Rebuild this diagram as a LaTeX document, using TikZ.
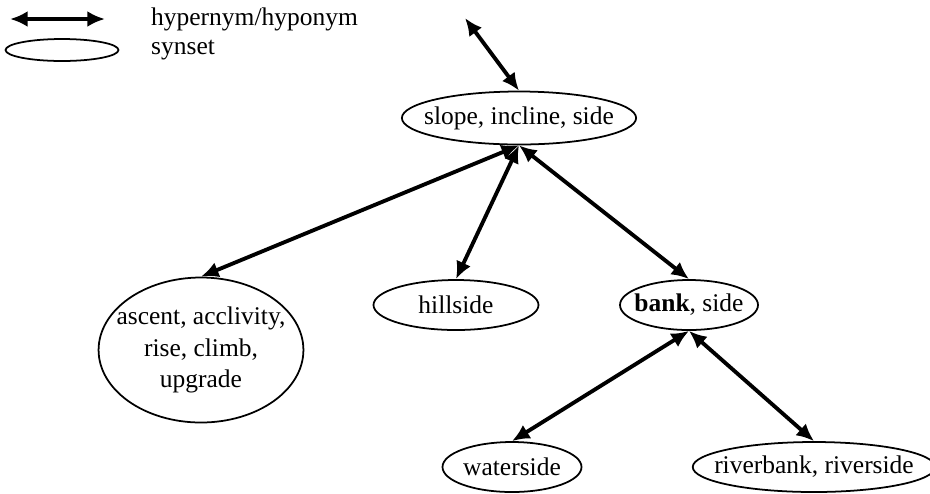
\documentclass[tikz,border=0pt]{standalone}
\usepackage{fontspec}
\setmainfont{Liberation Serif}
\usetikzlibrary{shapes.geometric}
\usetikzlibrary{arrows.meta}
\usetikzlibrary{positioning}
\tikzstyle{synset}=[ellipse, draw, line width=1pt, inner sep=0pt, align=center, font=\fontsize{14.5}{18}\selectfont]
\tikzstyle{hyp}=[{Latex[length=10pt,width=9pt]}-{Latex[length=10pt,width=9pt]}, line width=2.2pt]

\begin{document}
\begin{tikzpicture}
	\useasboundingbox (0,0) rectangle (18.6,-9.86);
	% legend
	\coordinate (la) at (0.2,-0.38);
	\coordinate (lb) at (2.1,-0.38);
	\draw [hyp] (la) to (lb);
	\node[anchor=west, font=\fontsize{14.5}{18}\selectfont] (lt) at (2.9,-0.38) {hypernym/hyponym};
	\node[synset, minimum width=2.26cm, minimum height=0.44cm] (le) at (1.24,-1.0) {};
	\node[anchor=west, font=\fontsize{14.5}{18}\selectfont] (ls) at (2.9,-1.0) {synset};
	% synsets
	\node[synset, inner xsep=-0.24cm, minimum width=4.64cm, minimum height=1.06cm] (slope) at (10.38,-2.36) {slope, incline, side};
	\node[synset, inner xsep=-0.24cm, minimum width=4.04cm, minimum height=2.9cm] (ascent) at (4.02,-7.0) {ascent, acclivity,\\rise, climb,\\upgrade};
	\node[synset, minimum width=3.3cm, minimum height=1cm] (hill) at (9.12,-6.1) {hillside};
	\node[synset, inner xsep=-0.14cm, minimum width=2.76cm, minimum height=1cm] (bank) at (13.78,-6.1) {\textbf{bank}, side};
	\node[synset, minimum width=2.78cm, minimum height=1cm] (water) at (10.24,-9.34) {waterside};
	\node[synset, inner xsep=-0.28cm, minimum width=4.58cm, minimum height=1cm] (river) at (16.28,-9.34) {riverbank, riverside};
	\coordinate (up) at (9.3,-0.36);
	% links
	\draw [hyp] (up) to (slope.north);
	\draw [hyp] (slope.south) to (ascent.north);
	\draw [hyp] (slope.south) to (hill.north);
	\draw [hyp] (slope.south) to (bank.north);
	\draw [hyp] (bank.south) to (water.north);
	\draw [hyp] (bank.south) to (river.north);
\end{tikzpicture}
\end{document}
